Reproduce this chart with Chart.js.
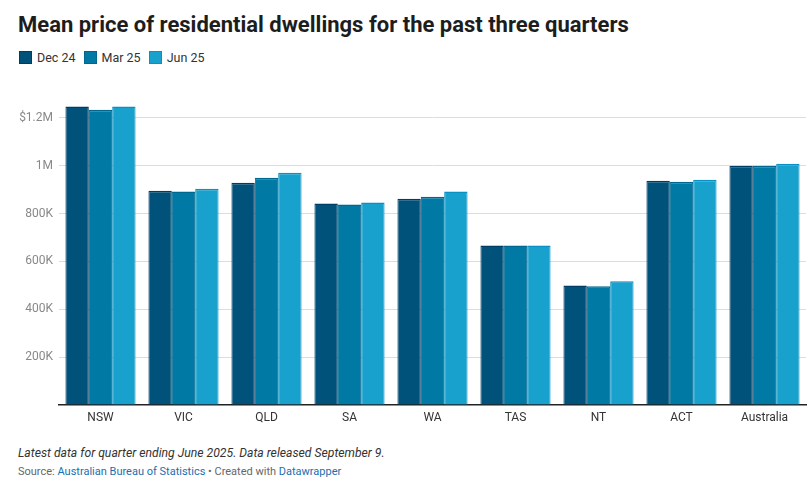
<!DOCTYPE html>
<html><head><meta charset="utf-8">
<script src="https://cdn.jsdelivr.net/npm/chart.js@4.4.1/dist/chart.umd.min.js"></script>
<style>
html,body{margin:0;padding:0;background:#fff;width:812px;height:484px;overflow:hidden;font-family:Roboto,sans-serif;}
#title{position:absolute;left:18px;top:12px;font-size:22px;font-weight:700;color:#1d1d1d;white-space:nowrap}
#legend{position:absolute;left:19px;top:50px;font-size:12.5px;color:#333;display:flex;align-items:center}
.li{display:flex;align-items:center;margin-right:8px}
.sw{width:13px;height:13px;margin-right:5px;box-sizing:border-box;border:1px solid}
#wrap{position:absolute;left:0;top:80px;width:812px;height:350px}
#note{position:absolute;left:18px;top:446px;font-size:12.2px;font-style:italic;color:#333;white-space:nowrap}
#src{position:absolute;left:18px;top:465px;font-size:11px;color:#666;white-space:nowrap}
#src a{color:#1a6fb0;text-decoration:none}
</style></head>
<body>
<div id="title">Mean price of residential dwellings for the past three quarters</div>
<div id="legend"></div>
<div id="wrap"><canvas id="c" width="812" height="350"></canvas></div>
<div id="note">Latest data for quarter ending June 2025. Data released September 9.</div>
<div id="src">Source: <a>Australian Bureau of Statistics</a> • Created with <a>Datawrapper</a></div>
<script>
const categories = ["NSW","VIC","QLD","SA","WA","TAS","NT","ACT","Australia"];
const seriesNames = ["Dec 24","Mar 25","Jun 25"];
const dec24 = [1248000, 896000, 929000, 842000, 862000, 667000, 500000, 937000, 1000000];
const mar25 = [1234000, 892000, 950000, 838000, 871000, 667000, 496000, 933000, 1000000];
const jun25 = [1248000, 904000, 971000, 846000, 892000, 667000, 517000, 942000, 1008000];
const yTicks = [0, 200000, 400000, 600000, 800000, 1000000, 1200000];
const yTickLabels = ["", "200K", "400K", "600K", "800K", "1M", "$1.2M"];

const fills = ["#01527a","#0079a4","#19a1cd"];
const borders = ["#003d66","#00678f","#0a90c2"];

const lg = document.getElementById('legend');
seriesNames.forEach((n,i)=>{
  const d=document.createElement('div');d.className='li';
  d.innerHTML='<span class="sw" style="background:'+fills[i]+';border-color:'+borders[i]+'"></span>'+n;
  lg.appendChild(d);
});

const data = [dec24, mar25, jun25];
new Chart(document.getElementById('c'), {
  type:'bar',
  data:{labels:categories, datasets: seriesNames.map((n,i)=>({
    label:n, data:data[i], backgroundColor:fills[i], borderColor:borders[i],
    borderWidth:{top:1.5,left:1,right:1,bottom:0}, borderSkipped:'bottom',
    categoryPercentage:0.845, barPercentage:1
  }))},
  options:{
    responsive:false, animation:false,
    layout:{padding:{top:14,right:6,left:0,bottom:0}},
    plugins:{legend:{display:false},tooltip:{enabled:false}},
    scales:{
      x:{
        grid:{display:false, drawTicks:false},
        border:{color:'#222', width:1.5},
        ticks:{color:'#333', font:{family:'Roboto', size:12}, padding:6},
        afterFit:s=>{s.height=25;}
      },
      y:{
        min:0, max:1300000,
        afterBuildTicks:s=>{s.ticks=yTicks.map(v=>({value:v}));},
        grid:{color:(ctx)=> ctx.tick && ctx.tick.value===0 ? 'rgba(0,0,0,0)' : '#dddddd', drawTicks:false, lineWidth:1},
        border:{display:false},
        ticks:{color:'#888', font:{family:'Roboto', size:12}, padding:6,
          callback:(v)=>{const i=yTicks.indexOf(v);return i>=0?yTickLabels[i]:'';}},
        afterFit:s=>{s.width=59;}
      }
    }
  }
});
</script>
</body></html>
